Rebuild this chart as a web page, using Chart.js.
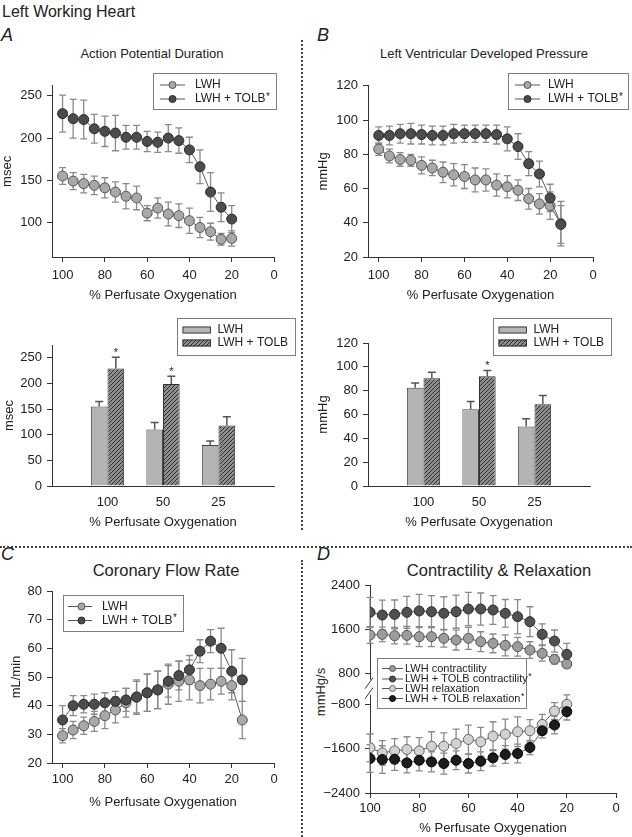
<!DOCTYPE html>
<html>
<head>
<meta charset="utf-8">
<script src="https://cdn.jsdelivr.net/npm/chart.js@4.4.1/dist/chart.umd.min.js"></script>
<style>
  body { margin: 0; background: #fff; }
  #page { position: relative; width: 632px; height: 837px; overflow: hidden; background: #fff;
          font-family: "Liberation Sans", Arial, sans-serif; color: #222; }
  #page canvas { position: absolute; }
  .t { position: absolute; transform: translate(-50%, -50%); white-space: nowrap; line-height: 1; }
  .lbl { position: absolute; font-style: italic; font-size: 18px; line-height: 1; transform: translate(0, -50%); }
  .vdot { position: absolute; border-left: 2px dotted #444; width: 0; }
  .hdot { position: absolute; border-top: 2px dotted #444; height: 0; }
</style>
</head>
<body>
<div id="page">
  <div style="position:absolute;left:2px;top:3px;font-size:16px;line-height:18px;">Left Working Heart</div>
  <div class="lbl" style="left:1px;top:35px;">A</div>
  <div class="lbl" style="left:317px;top:35px;">B</div>
  <div class="lbl" style="left:1px;top:554px;">C</div>
  <div class="lbl" style="left:317px;top:554px;">D</div>
  <div class="t" style="left:152px;top:53px;font-size:13px;">Action Potential Duration</div>
  <div class="t" style="left:484px;top:53px;font-size:13px;">Left Ventricular Developed Pressure</div>
  <div class="t" style="left:166px;top:570px;font-size:16.5px;">Coronary Flow Rate</div>
  <div class="t" style="left:499px;top:570px;font-size:16.5px;">Contractility &amp; Relaxation</div>
  <div class="t" style="left:320px;top:692px;font-size:13px;transform:translate(-50%,-50%) rotate(-90deg);">mmHg/s</div>
  <div class="vdot" style="left:301px;top:40px;height:490px;"></div>
  <div class="hdot" style="left:0;top:546px;width:632px;"></div>
  <div class="vdot" style="left:301px;top:560px;height:277px;"></div>
</div>
<script>
// ---------------- DATA ----------------
const oxygenTo20 = [100, 95, 90, 85, 80, 75, 70, 65, 60, 55, 50, 45, 40, 35, 30, 25, 20];
const oxygenTo15 = [100, 95, 90, 85, 80, 75, 70, 65, 60, 55, 50, 45, 40, 35, 30, 25, 20, 15];
const xTickValues = [100, 80, 60, 40, 20, 0];
const xTitle = '% Perfusate Oxygenation';

// A: Action Potential Duration (msec)
const apdLWH      = [155, 149, 146, 144, 141, 136, 131, 129, 111, 117, 110, 108, 102, 94, 89, 80, 81];
const apdLWHErr   = [10, 10, 11, 11, 12, 12, 15, 14, 9, 12, 14, 14, 15, 12, 10, 7, 9];
const apdTOLB     = [229, 223, 222, 211, 208, 206, 201, 201, 196, 195, 200, 197, 186, 166, 136, 118, 104];
const apdTOLBErr  = [22, 23, 23, 17, 18, 21, 14, 14, 12, 12, 16, 15, 15, 20, 23, 17, 16];
const apdTicks    = [100, 150, 200, 250];

// B: Left Ventricular Developed Pressure (mmHg)
const lvdpLWH     = [83, 79, 77, 76.5, 73.5, 72, 69.5, 68, 67, 65, 65, 62, 61, 59, 54, 51, 50, 39.5];
const lvdpLWHErr  = [3.6, 4, 4, 3.5, 5, 4.5, 6, 6.5, 7, 7, 6.5, 6.5, 6.5, 6, 6, 6, 8, 13];
const lvdpTOLB    = [91, 91, 92, 92, 91.5, 91, 91, 92, 92, 92, 92, 91.5, 89, 84.5, 74.5, 68.5, 54.5, 39];
const lvdpTOLBErr = [5, 5.5, 5.5, 6, 5.5, 5.5, 5.5, 5.5, 5, 5, 5, 5.5, 7, 7.5, 7, 7.5, 8, 11];
const lvdpTicks   = [20, 40, 60, 80, 100, 120];

// Bar panels
const barCategories   = ['100', '50', '25'];
const apdBarLWH       = [155, 110, 80];
const apdBarLWHErr    = [10, 14, 8];
const apdBarTOLB      = [229, 199, 118];
const apdBarTOLBErr   = [22, 15, 17];
const apdBarStars     = ['*', '*', ''];
const apdBarTicks     = [0, 50, 100, 150, 200, 250];
const lvdpBarLWH      = [82.5, 64.5, 50];
const lvdpBarLWHErr   = [4, 6.5, 6.5];
const lvdpBarTOLB     = [90.5, 92, 68.5];
const lvdpBarTOLBErr  = [5, 5, 7.5];
const lvdpBarStars    = ['', '*', ''];
const lvdpBarTicks    = [0, 20, 40, 60, 80, 100, 120];

// C: Coronary Flow Rate (mL/min)
const cfrLWH      = [29.5, 31.5, 33, 34.5, 36.5, 38.5, 41, 43, 44.5, 45.5, 47.5, 48.5, 49, 47, 47.5, 48.5, 47, 35];
const cfrLWHErr   = [2.5, 3, 3, 3.5, 4.5, 4.5, 5, 6, 6.5, 6.5, 7, 7, 7, 6, 5.5, 4.5, 5, 6.5];
const cfrTOLB     = [35, 40, 40.5, 40.5, 41, 41.5, 42, 43, 44.5, 45.5, 48.5, 50.5, 52.5, 59, 62.5, 60, 52, 49];
const cfrTOLBErr  = [5, 3.5, 3, 3.5, 3.5, 3.5, 4, 5.5, 6.5, 6.5, 5.5, 5, 5, 4, 4, 7, 7.5, 7.5];
const cfrTicks    = [20, 30, 40, 50, 60, 70, 80];

// D: Contractility & Relaxation (mmHg/s)
const contrLWH      = [1494, 1506, 1482, 1488, 1464, 1464, 1434, 1403, 1434, 1373, 1343, 1307, 1283, 1222, 1162, 1053, 969];
const contrLWHErr   = [150, 130, 150, 160, 180, 180, 160, 180, 200, 180, 170, 190, 170, 150, 140, 80, 70];
const contrTOLB     = [1905, 1856, 1868, 1905, 1929, 1917, 1887, 1917, 1965, 1965, 1947, 1887, 1826, 1736, 1506, 1385, 1144];
const contrTOLBErr  = [270, 270, 260, 290, 300, 290, 300, 300, 300, 290, 260, 250, 310, 270, 190, 200, 200];
const relaxLWH      = [-1585, -1676, -1640, -1615, -1640, -1555, -1555, -1507, -1434, -1476, -1374, -1338, -1295, -1277, -1162, -921, -800];
const relaxLWHErr   = [250, 220, 220, 230, 240, 260, 240, 260, 260, 260, 260, 270, 270, 200, 180, 150, 170];
const relaxTOLB     = [-1778, -1797, -1791, -1857, -1809, -1839, -1869, -1809, -1869, -1827, -1766, -1706, -1688, -1579, -1277, -1174, -933];
const relaxTOLBErr  = [250, 250, 200, 180, 190, 180, 190, 170, 170, 170, 150, 160, 170, 130, 130, 160, 150];
const dTopTicks     = [800, 1600, 2400];
const dBottomTicks  = [-2400, -1600, -800];

// ---------------- STYLE ----------------
const FONT = '"Liberation Sans", Arial, sans-serif';
const INK = '#222';
const AXIS = '#333';
const LIGHT_FILL = '#a8a8a8', LIGHT_EDGE = '#555';
const DARK_FILL = '#4c4c4c', DARK_EDGE = '#2a2a2a';

function hatchPattern() {
  const c = document.createElement('canvas');
  c.width = 4; c.height = 4;
  const x = c.getContext('2d');
  x.fillStyle = '#8e8e8e'; x.fillRect(0, 0, 4, 4);
  x.strokeStyle = '#2f2f2f'; x.lineWidth = 1;
  x.beginPath();
  x.moveTo(0, 4); x.lineTo(4, 0);
  x.moveTo(-1, 1); x.lineTo(1, -1);
  x.moveTo(3, 5); x.lineTo(5, 3);
  x.stroke();
  return x.createPattern(c, 'repeat');
}

// ---------------- PLUGINS ----------------
const errorBarPlugin = {
  id: 'errorBars',
  beforeDatasetsDraw(chart) {
    const ctx = chart.ctx;
    chart.data.datasets.forEach((ds, di) => {
      if (!ds.errors) return;
      const meta = chart.getDatasetMeta(di);
      const ys = chart.scales[meta.yAxisID];
      ctx.save();
      ctx.strokeStyle = ds.errorColor || '#8a8a8a';
      ctx.lineWidth = ds.errorWidth || 1.3;
      meta.data.forEach((el, i) => {
        const raw = ds.data[i];
        const v = (raw !== null && typeof raw === 'object') ? raw.y : raw;
        const e = ds.errors[i];
        if (v == null || e == null) return;
        const x = el.x;
        const top = ys.getPixelForValue(v + e);
        const bot = ds.upperOnly ? el.y : ys.getPixelForValue(v - e);
        const c = ds.capHalf || 3.5;
        ctx.beginPath();
        ctx.moveTo(x, top); ctx.lineTo(x, bot);
        ctx.moveTo(x - c, top); ctx.lineTo(x + c, top);
        if (!ds.upperOnly) { ctx.moveTo(x - c, bot); ctx.lineTo(x + c, bot); }
        ctx.stroke();
      });
      ctx.restore();
    });
  },
  afterDatasetsDraw(chart) {
    const ctx = chart.ctx;
    chart.data.datasets.forEach((ds, di) => {
      if (!ds.stars) return;
      const meta = chart.getDatasetMeta(di);
      const ys = chart.scales[meta.yAxisID];
      ctx.save();
      ctx.fillStyle = INK;
      ctx.font = '11px ' + FONT;
      ctx.textAlign = 'center';
      ctx.textBaseline = 'alphabetic';
      meta.data.forEach((el, i) => {
        const s = ds.stars[i];
        if (!s) return;
        const top = ys.getPixelForValue(ds.data[i] + ds.errors[i]);
        ctx.fillText(s, el.x, top - 1);
      });
      ctx.restore();
    });
  }
};

const legendBoxPlugin = {
  id: 'legendBox',
  afterDraw(chart, args, o) {
    if (!o || !o.box) return;
    const ctx = chart.ctx;
    const [bx, by, bw, bh] = o.box;
    ctx.save();
    ctx.fillStyle = '#fff';
    ctx.fillRect(bx, by, bw, bh);
    ctx.strokeStyle = '#7d7d7d'; ctx.lineWidth = 1;
    ctx.strokeRect(bx + 0.5, by + 0.5, bw - 1, bh - 1);
    chart.data.datasets.forEach((ds, i) => {
      const y = by + o.rows[i];
      const s0 = bx + o.sample[0], s1 = bx + o.sample[1];
      if (o.kind === 'bar') {
        ctx.fillStyle = ds.backgroundColor;
        ctx.fillRect(s0, y - 3.5, s1 - s0, 7);
        ctx.strokeStyle = ds.borderColor; ctx.lineWidth = 1;
        ctx.strokeRect(s0 + 0.5, y - 3, s1 - s0 - 1, 6);
      } else {
        ctx.strokeStyle = '#555'; ctx.lineWidth = 1;
        ctx.beginPath(); ctx.moveTo(s0, y); ctx.lineTo(s1, y); ctx.stroke();
        ctx.beginPath(); ctx.arc(bx + o.dot, y, o.r, 0, Math.PI * 2);
        ctx.fillStyle = ds.pointBackgroundColor; ctx.fill();
        ctx.strokeStyle = ds.pointBorderColor; ctx.stroke();
      }
      ctx.fillStyle = INK;
      ctx.textBaseline = 'middle'; ctx.textAlign = 'left';
      ctx.font = o.fontSize + 'px ' + FONT;
      let text = ds.label, star = '';
      if (text.endsWith('*')) { text = text.slice(0, -1); star = '*'; }
      ctx.fillText(text, bx + o.textX, y);
      if (star) {
        const w = ctx.measureText(text).width;
        ctx.font = Math.round(o.fontSize * 0.8) + 'px ' + FONT;
        ctx.fillText(star, bx + o.textX + w + 0.5, y - 2);
      }
    });
    ctx.restore();
  }
};

const axisBreakPlugin = {
  id: 'axisBreak',
  afterDraw(chart, args, o) {
    if (!o || !o.enabled) return;
    const ctx = chart.ctx;
    const s = chart.scales[o.upper];
    const x = s.right, b = s.bottom;
    ctx.save();
    ctx.fillStyle = '#fff';
    ctx.fillRect(x - 2, b - 8, 4, 15);
    ctx.strokeStyle = AXIS; ctx.lineWidth = 1;
    ctx.beginPath();
    ctx.moveTo(x - 5, b + 1); ctx.lineTo(x + 3, b - 10);
    ctx.moveTo(x - 5, b + 11); ctx.lineTo(x + 3, b);
    ctx.stroke();
    ctx.restore();
  }
};

Chart.register(errorBarPlugin, legendBoxPlugin, axisBreakPlugin);

// ---------------- HELPERS ----------------
const fmtNum = v => (v < 0 ? '\u2212' + Math.abs(v) : String(v));

function yAxis(o) {
  const ax = {
    type: 'linear', position: 'left', min: o.min, max: o.max,
    afterBuildTicks: s => { s.ticks = o.ticks.map(v => ({ value: v })); },
    afterFit: s => { s.width = o.width; },
    grid: { display: true, drawOnChartArea: false, drawTicks: true, tickLength: 5, color: AXIS, lineWidth: 1 },
    border: { display: true, color: AXIS, width: 1 },
    ticks: { color: INK, font: { family: FONT, size: 13 }, padding: 5, callback: v => fmtNum(v) },
    title: { display: !!o.title, text: o.title || '', color: INK,
             font: { family: FONT, size: 13, lineHeight: 1.2 }, padding: { top: o.titlePad || 0, bottom: 0 } }
  };
  if (o.stack) { ax.stack = o.stack; ax.stackWeight = o.stackWeight; ax.weight = o.weight; }
  return ax;
}

function xLinear(o) {
  return {
    type: 'linear', reverse: true, min: 0, max: o.max,
    afterBuildTicks: s => { s.ticks = xTickValues.map(v => ({ value: v })); },
    afterFit: s => { s.height = o.height; },
    grid: { display: true, drawOnChartArea: false, drawTicks: true, tickLength: 5, color: AXIS, lineWidth: 1 },
    border: { display: true, color: AXIS, width: 1 },
    ticks: { color: INK, font: { family: FONT, size: 13 }, padding: o.tickPad, maxRotation: 0, autoSkip: false },
    title: { display: true, text: xTitle, color: INK, font: { family: FONT, size: 13, lineHeight: 1.2 }, padding: { top: 0, bottom: 0 } }
  };
}

function xCategory(o) {
  return {
    type: 'category', labels: ['', ...barCategories, ''], offset: false,
    afterFit: s => { s.height = o.height; },
    grid: { display: false, drawTicks: false },
    border: { display: true, color: AXIS, width: 1 },
    ticks: { color: INK, font: { family: FONT, size: 13 }, padding: o.tickPad, maxRotation: 0, autoSkip: false },
    title: { display: true, text: xTitle, color: INK, font: { family: FONT, size: 13, lineHeight: 1.2 }, padding: { top: 0, bottom: 0 } }
  };
}

function lineSet(label, xs, ys, errs, fill, edge, order, axisId) {
  return {
    label, order, yAxisID: axisId || 'y',
    data: xs.map((x, i) => ({ x, y: ys[i] })),
    errors: errs, errorColor: '#8a8a8a', errorWidth: 1.3, capHalf: 3.5,
    borderColor: '#5a5a5a', borderWidth: 1, tension: 0, fill: false,
    pointRadius: 5, pointHoverRadius: 5, pointBorderWidth: 1,
    pointBackgroundColor: fill, pointBorderColor: edge
  };
}

function barSet(label, vals, errs, stars, bg, edge) {
  return {
    label,
    data: [null, ...vals, null],
    errors: [null, ...errs, null],
    stars: stars ? ['', ...stars, ''] : null,
    upperOnly: true, errorColor: '#555', errorWidth: 1.5, capHalf: 4,
    backgroundColor: bg, borderColor: edge, borderWidth: 1,
    categoryPercentage: 0.6, barPercentage: 1.0
  };
}

const page = document.getElementById('page');
function mk(rect, type, data, scales, padding, plugins) {
  const c = document.createElement('canvas');
  c.width = rect[2]; c.height = rect[3];
  c.style.left = rect[0] + 'px'; c.style.top = rect[1] + 'px';
  c.style.width = rect[2] + 'px'; c.style.height = rect[3] + 'px';
  page.appendChild(c);
  return new Chart(c, {
    type, data,
    options: {
      responsive: false, animation: false, devicePixelRatio: 1,
      layout: { padding },
      scales,
      plugins: Object.assign({ legend: { display: false }, tooltip: { enabled: false } }, plugins)
    }
  });
}

const lineLegend = (box, extra) => Object.assign({ box, kind: 'line', rows: [12, 26], sample: [7, 32], dot: 19.5, r: 3.5, textX: 42, fontSize: 12 }, extra || {});
const barLegend = box => ({ box, kind: 'bar', rows: [12, 25], sample: [5.5, 34], textX: 40.5, fontSize: 12 });

// ---------------- A: APD line ----------------
mk([0, 73, 300, 230], 'line',
  { datasets: [
    lineSet('LWH', oxygenTo20, apdLWH, apdLWHErr, LIGHT_FILL, LIGHT_EDGE, 1),
    lineSet('LWH + TOLB*', oxygenTo20, apdTOLB, apdTOLBErr, DARK_FILL, DARK_EDGE, 0)
  ]},
  { x: xLinear({ max: 105, height: 46, tickPad: 6 }),
    y: yAxis({ min: 59, max: 262, ticks: apdTicks, width: 52, title: 'msec', titlePad: 0 }) },
  { left: 0, top: 10, right: 26, bottom: 0 },
  { legendBox: lineLegend([153, 0, 124, 37]) });

// ---------------- B: LVDP line ----------------
mk([310, 73, 322, 230], 'line',
  { datasets: [
    lineSet('LWH', oxygenTo15, lvdpLWH, lvdpLWHErr, LIGHT_FILL, LIGHT_EDGE, 1),
    lineSet('LWH + TOLB*', oxygenTo15, lvdpTOLB, lvdpTOLBErr, DARK_FILL, DARK_EDGE, 0)
  ]},
  { x: xLinear({ max: 105, height: 46, tickPad: 6 }),
    y: yAxis({ min: 20, max: 120, ticks: lvdpTicks, width: 58, title: 'mmHg', titlePad: 6 }) },
  { left: 0, top: 10, right: 39, bottom: 0 },
  { legendBox: lineLegend([198, 0, 121, 37], { textX: 40 }) });

// ---------------- A: APD bars ----------------
const hatch = hatchPattern();
mk([0, 312, 300, 218], 'bar',
  { datasets: [
    barSet('LWH', apdBarLWH, apdBarLWHErr, null, '#b4b4b4', '#444'),
    barSet('LWH + TOLB', apdBarTOLB, apdBarTOLBErr, apdBarStars, hatch, '#333')
  ]},
  { x: xCategory({ height: 44, tickPad: 9 }),
    y: yAxis({ min: 0, max: 275, ticks: apdBarTicks, width: 52, title: 'msec', titlePad: 2 }) },
  { left: 0, top: 33, right: 26, bottom: 0 },
  { legendBox: barLegend([177, 6, 119, 38]) });

// ---------------- B: LVDP bars ----------------
mk([310, 312, 322, 218], 'bar',
  { datasets: [
    barSet('LWH', lvdpBarLWH, lvdpBarLWHErr, null, '#b4b4b4', '#444'),
    barSet('LWH + TOLB', lvdpBarTOLB, lvdpBarTOLBErr, lvdpBarStars, hatch, '#333')
  ]},
  { x: xCategory({ height: 44, tickPad: 9 }),
    y: yAxis({ min: 0, max: 120, ticks: lvdpBarTicks, width: 58, title: 'mmHg', titlePad: 6 }) },
  { left: 0, top: 31, right: 42, bottom: 0 },
  { legendBox: barLegend([183, 6, 119, 38]) });

// ---------------- C: Coronary flow ----------------
mk([0, 575, 300, 235], 'line',
  { datasets: [
    lineSet('LWH', oxygenTo15, cfrLWH, cfrLWHErr, LIGHT_FILL, LIGHT_EDGE, 1),
    lineSet('LWH + TOLB*', oxygenTo15, cfrTOLB, cfrTOLBErr, DARK_FILL, DARK_EDGE, 0)
  ]},
  { x: xLinear({ max: 105, height: 47, tickPad: 4 }),
    y: yAxis({ min: 20, max: 80, ticks: cfrTicks, width: 52, title: 'mL/min', titlePad: 9 }) },
  { left: 0, top: 16, right: 26, bottom: 0 },
  { legendBox: lineLegend([63, 20, 121, 37], { rows: [11.5, 25.5], sample: [5, 29], dot: 18.5, textX: 39 }) });

// ---------------- D: Contractility & relaxation ----------------
mk([310, 570, 322, 266], 'line',
  { datasets: [
    lineSet('LWH contractility', oxygenTo20, contrLWH, contrLWHErr, '#9c9c9c', '#555', 1, 'y1'),
    lineSet('LWH + TOLB contractility*', oxygenTo20, contrTOLB, contrTOLBErr, '#505050', '#2a2a2a', 0, 'y1'),
    lineSet('LWH relaxation', oxygenTo20, relaxLWH, relaxLWHErr, '#d2d2d2', '#666', 1, 'y2'),
    lineSet('LWH + TOLB relaxation*', oxygenTo20, relaxTOLB, relaxTOLBErr, '#1c1c1c', '#000', 0, 'y2')
  ]},
  { x: Object.assign(xLinear({ max: 100, height: 43, tickPad: 3 })),
    y1: yAxis({ min: 540, max: 2400, ticks: dTopTicks, width: 60, stack: 'd', stackWeight: 102.7, weight: 2 }),
    y2: yAxis({ min: -2400, max: -500, ticks: dBottomTicks, width: 60, stack: 'd', stackWeight: 105.3, weight: 1 }) },
  { left: 0, top: 15, right: 16, bottom: 0 },
  { legendBox: { box: [67, 88, 150, 51], kind: 'line', rows: [10.5, 21, 30.5, 40.5], sample: [5, 26], dot: 15.5, r: 3, textX: 28, fontSize: 11 },
    axisBreak: { enabled: true, upper: 'y1' } });
</script>
</body>
</html>
